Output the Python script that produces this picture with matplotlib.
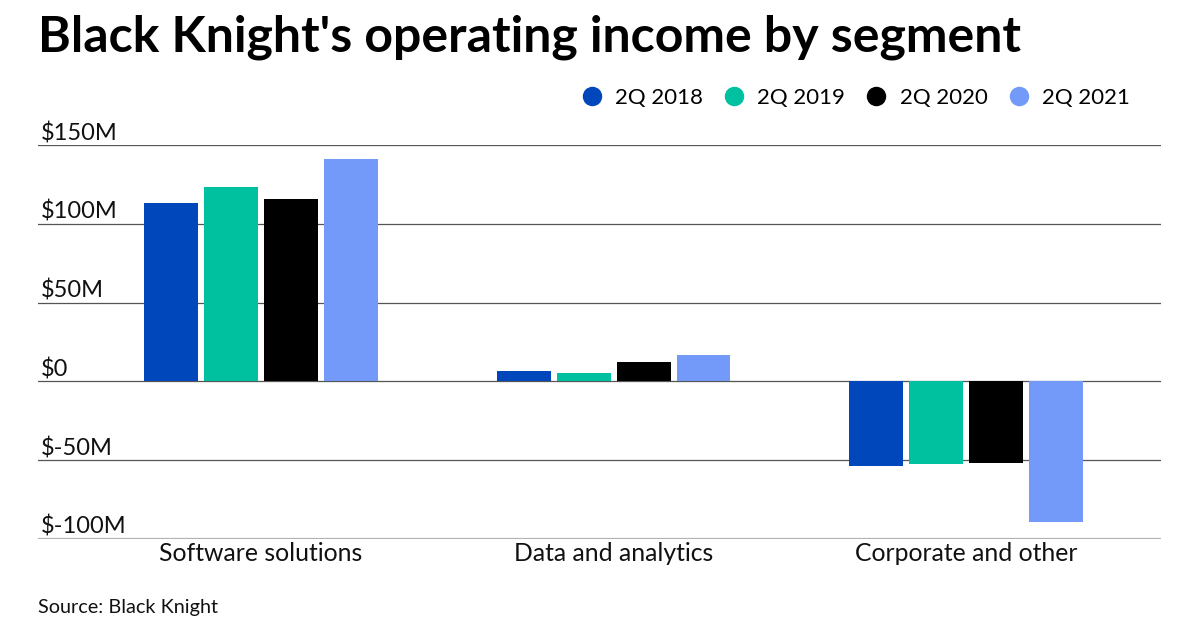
import matplotlib
matplotlib.use("Agg")
import matplotlib.pyplot as plt
from matplotlib.lines import Line2D
import matplotlib.transforms as mtransforms
import numpy as np

plt.rcParams['font.family'] = ['Lato', 'DejaVu Sans']

categories = ["Software solutions", "Data and analytics", "Corporate and other"]
series_names = ["2Q 2018", "2Q 2019", "2Q 2020", "2Q 2021"]
v2018 = [113.4, 6.4, -53.7]
v2019 = [123.8, 5.3, -52.7]
v2020 = [116.1, 12.1, -52.2]
v2021 = [141.6, 17.0, -89.4]
yticks = [-100, -50, 0, 50, 100, 150]
ytick_labels = ["$-100M", "$-50M", "$0", "$50M", "$100M", "$150M"]

colors = ["#0047BB", "#00C19F", "#000000", "#739AF8"]
series = [v2018, v2019, v2020, v2021]

fig = plt.figure(figsize=(12, 6.3), dpi=100)
ax = fig.add_axes([38/1200, 91.3/630, 1123/1200, 393.4/630])

x = np.arange(len(categories))
step = 0.170
width = 0.153
for i, (vals, c) in enumerate(zip(series, colors)):
    ax.bar(x + (i - 1.5) * step, vals, width=width, color=c, zorder=3, linewidth=0)

ax.set_xlim(-0.633, 2.553)
ax.set_ylim(-100, 150)

for t in yticks:
    if t == -100:
        ax.axhline(t, color="#b3b3b3", linewidth=1.6, zorder=2)
    else:
        ax.axhline(t, color="#555555", linewidth=0.9, zorder=2)

trans = mtransforms.blended_transform_factory(ax.transAxes, ax.transData)
offset = mtransforms.ScaledTranslation(0, 1/100, fig.dpi_scale_trans)
for t, lab in zip(yticks, ytick_labels):
    ax.text(3/1123, t, lab, transform=trans + offset, ha="left", va="bottom",
            fontsize=17, color="#111111")

ax.set_xticks([])
ax.set_yticks([])
for s in ax.spines.values():
    s.set_visible(False)

for xi, cat in zip(x, categories):
    ax.text(xi, -100, cat, transform=ax.transData + mtransforms.ScaledTranslation(0, -15/100, fig.dpi_scale_trans),
            ha="center", va="center", fontsize=17.8, color="#111111")

fig.text(38/1200, 1 - 37/630, "Black Knight's operating income by segment",
         fontsize=36, fontweight="bold", ha="left", va="center", color="#000000")

handles = [Line2D([0], [0], marker="o", linestyle="", markersize=13,
                  markerfacecolor=c, markeredgecolor=c) for c in colors]
fig.legend(handles, series_names, loc="center right", bbox_to_anchor=(1130/1200, 1 - 98/630),
           ncol=4, frameon=False, fontsize=16, handletextpad=0.55, columnspacing=0.9,
           handlelength=1.0, borderaxespad=0, borderpad=0)

fig.text(38/1200, 1 - 607/630, "Source: Black Knight", fontsize=14.3, ha="left", va="center",
         color="#111111")

fig.savefig("out.png", dpi=100, facecolor="white")
